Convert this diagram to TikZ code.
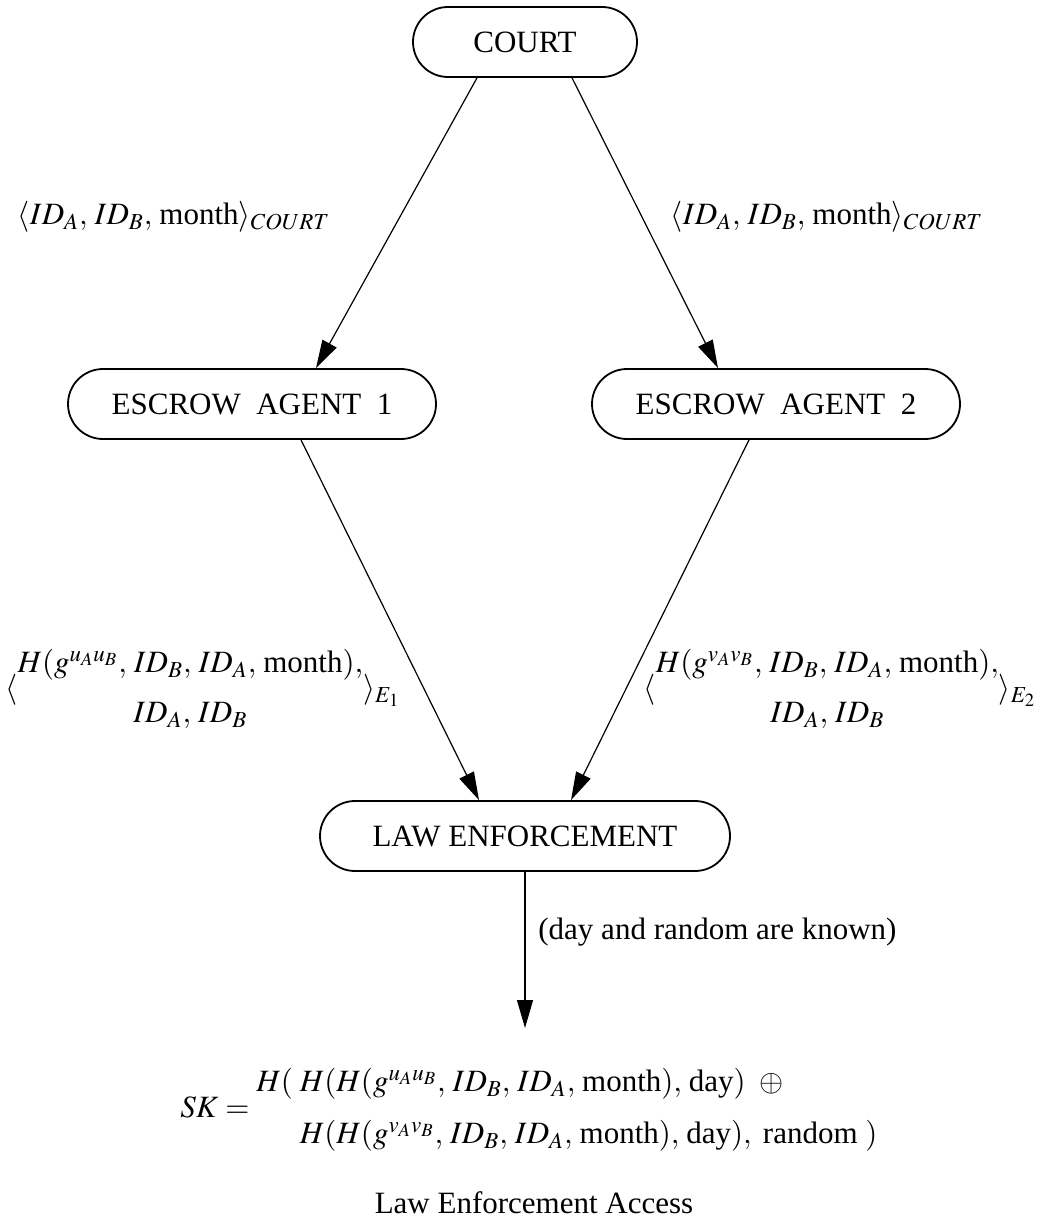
\documentclass[tikz,border=0pt]{standalone}
\usepackage{amsmath}
\usepackage{mathptmx}
\usepackage[no-math]{fontspec}
\setmainfont{Liberation Serif}
\usetikzlibrary{arrows.meta,calc}
\tikzset{
  every node/.style={font=\fontsize{15.5}{19}\selectfont},
  agentbox/.style={draw, line width=0.9pt, rounded corners=17.5pt, minimum height=35pt, inner sep=0pt},
  arr/.style={line width=0.6pt, -{Triangle[length=14pt,width=8pt]}},
  lbl/.style={inner sep=0pt}
}
\begin{document}
\begin{tikzpicture}[x=0.5pt,y=-0.5pt]
\useasboundingbox (0,0) rectangle (1056,1219);
% boxes
\node[agentbox, minimum width=112pt] (court) at (525,42) {COURT};
\node[agentbox, minimum width=184pt] (ea1) at (252,404) {ESCROW\ \ AGENT\ \ 1};
\node[agentbox, minimum width=184pt] (ea2) at (776,404) {ESCROW\ \ AGENT\ \ 2};
\node[agentbox, minimum width=205pt] (le) at (525,836) {LAW ENFORCEMENT};
\coordinate (skpt) at (525,1028);
% arrows
\draw[arr] ([xshift=-24pt]court.south) -- ([xshift=32pt]ea1.north);
\draw[arr] ([xshift=23.5pt]court.south) -- ([xshift=-29pt]ea2.north);
\draw[arr] ([xshift=24.5pt]ea1.south) -- ([xshift=-23pt]le.north);
\draw[arr] ([xshift=-13.5pt]ea2.south) -- ([xshift=23pt]le.north);
\draw[arr] (le.south) -- (skpt);
% labels
\node[lbl] (l1) at (174,217) {$\langle ID_A,\, ID_B,\, \text{month}\rangle_{COURT}$};
\node[lbl] (l2) at (827,217) {$\langle ID_A,\, ID_B,\, \text{month}\rangle_{COURT}$};
\node[lbl] (l3) at (203,690) {$\langle\begin{array}{@{}c@{}} H(g^{u_A u_B},\, ID_B,\, ID_A,\, \text{month}), \\[6pt] ID_A,\, ID_B \end{array}\rangle_{E_1}$};
\node[lbl] (l4) at (840,690) {$\langle\begin{array}{@{}c@{}} H(g^{v_A v_B},\, ID_B,\, ID_A,\, \text{month}), \\[6pt] ID_A,\, ID_B \end{array}\rangle_{E_2}$};
\node[lbl, anchor=west] (known) at (538,932) {(day and random are known)};
\node[lbl, anchor=west] (sk) at (180,1110) {$SK = \begin{array}{@{}l@{}} H(\; H(H(g^{u_A u_B},\, ID_B,\, ID_A,\, \text{month}),\, \text{day})\;\;\oplus \\[7pt] \phantom{H(\;} H(H(g^{v_A v_B},\, ID_B,\, ID_A,\, \text{month}),\, \text{day}),\ \text{random}\ ) \end{array}$};
\node[lbl] (cap) at (534,1203) {Law Enforcement Access};
\end{tikzpicture}
\end{document}
